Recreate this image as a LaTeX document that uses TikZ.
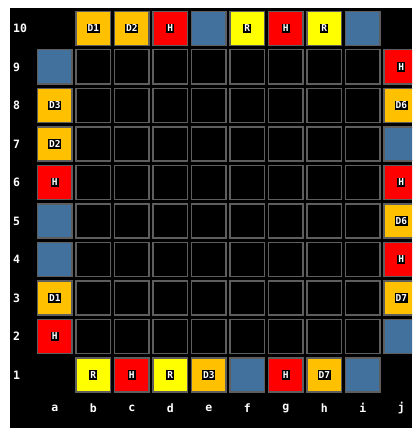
\documentclass[tikz,border=0pt]{standalone}
\usepackage{fontspec}
\setmonofont{DejaVu Sans Mono}
\usepackage{xcolor}
\usepackage{tikz}
\usetikzlibrary{positioning}

\definecolor{tileorange}{HTML}{FFC000}
\definecolor{tilered}{HTML}{FF0000}
\definecolor{tileyellow}{HTML}{FFFF00}
\definecolor{tileblue}{HTML}{41719C}
\definecolor{cellgray}{HTML}{5E5E5E}

\begin{document}
\begin{tikzpicture}[x=1pt, y=-1pt,
    cell/.style={draw=cellgray, line width=1.2pt, minimum width=34.6pt, minimum height=34pt, inner sep=0pt},
    axislabel/.style={text=white, font=\ttfamily\bfseries\fontsize{11.5}{11.5}\selectfont},
    tilelabel/.style={text=white, fill=black, inner xsep=1pt, inner ysep=1.2pt,
        font=\ttfamily\bfseries\fontsize{9.5}{9.5}\selectfont}]
    % Rahmen
    \useasboundingbox (0,0) rectangle (412,428);
    \fill[white] (0,0) rectangle (412,428);
    \clip (0,0) rectangle (412,428);
    \fill[black] (10,8) rectangle (412,428);

    % leere Felder
    \foreach \c in {1,...,8} {
        \foreach \r in {2,...,9} {
            \node[cell, fill=black] (cell-\c-\r) at ({54.75+38.5*\c}, {28.4+38.5*(10-\r)}) {};
        }
    }

    % Randfelder mit Beschriftung
    \foreach \c/\r/\col/\l in {1/10/tileorange/D1, 2/10/tileorange/D2, 3/10/tilered/H, 5/10/tileyellow/R,
        6/10/tilered/H, 7/10/tileyellow/R, 1/1/tileyellow/R, 2/1/tilered/H, 3/1/tileyellow/R,
        4/1/tileorange/D3, 6/1/tilered/H, 7/1/tileorange/D7, 0/8/tileorange/D3, 0/7/tileorange/D2,
        0/6/tilered/H, 0/3/tileorange/D1, 0/2/tilered/H, 9/9/tilered/H, 9/8/tileorange/D6,
        9/6/tilered/H, 9/5/tileorange/D6, 9/4/tilered/H, 9/3/tileorange/D7} {
        \node[cell, fill=\col] (tile-\c-\r) at ({54.75+38.5*\c}, {28.4+38.5*(10-\r)}) {};
        \node[tilelabel] (lbl-\c-\r) at (tile-\c-\r.center) {\l};
    }

    % blaue Randfelder
    \foreach \c/\r in {4/10, 8/10, 5/1, 8/1, 0/9, 0/5, 0/4, 9/7, 9/2} {
        \node[cell, fill=tileblue] (tile-\c-\r) at ({54.75+38.5*\c}, {28.4+38.5*(10-\r)}) {};
    }

    % Achsenbeschriftung
    \foreach \r in {1,...,10} {
        \node[axislabel, anchor=west, inner sep=0pt] (row-\r) at (13, {28.4+38.5*(10-\r)}) {\r};
    }
    \foreach \c/\l in {0/a, 1/b, 2/c, 3/d, 4/e, 5/f, 6/g, 7/h, 8/i, 9/j} {
        \node[axislabel] (col-\l) at ({54.75+38.5*\c}, 408) {\l};
    }
\end{tikzpicture}
\end{document}
